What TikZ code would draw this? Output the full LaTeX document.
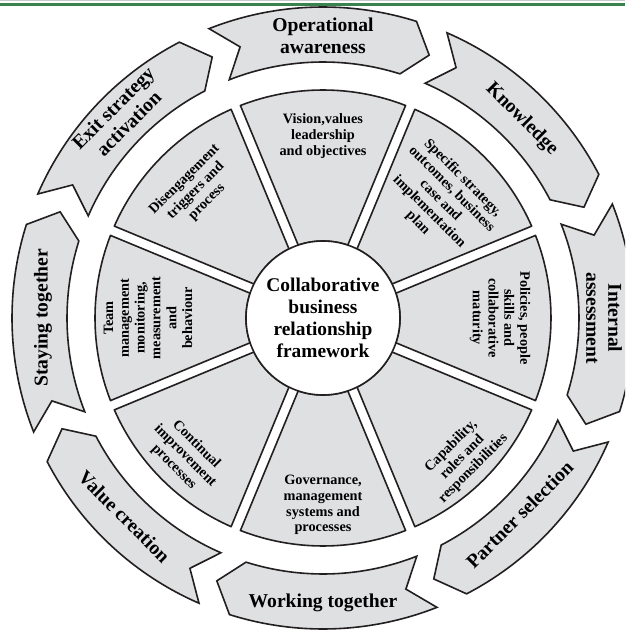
\documentclass[tikz,border=0pt]{standalone}
\usepackage{fontspec}
\setmainfont{Liberation Serif}
\usepackage{tikz}
\usepackage{xcolor}
\tikzset{every picture/.style={line width=1.6pt}}

\definecolor{cbgray}{RGB}{223,224,226}
\definecolor{cbline}{RGB}{35,31,32}
\definecolor{cbgreen}{RGB}{58,130,78}
\definecolor{cbrule}{RGB}{200,202,204}

\tikzset{
  sector/.style={draw=cbline, fill=cbgray, line join=round},
  ringarrow/.style={draw=cbline, fill=cbgray},
  sectortext/.style={align=center, inner sep=0pt, font=\bfseries\fontsize{14.3}{15.8}\selectfont},
  ringtext/.style={align=center, inner sep=0pt, font=\bfseries\fontsize{19.6}{22}\selectfont},
  corecircle/.style={circle, draw=cbline, fill=white, minimum size=154pt, inner sep=0pt, align=center, font=\bfseries\fontsize{19.4}{22}\selectfont}
}

% inner sector, #1 = middle angle
\newcommand{\cbsector}[1]{%
  \pgfmathsetmacro\cbA{#1-22.5+1.26}%
  \pgfmathsetmacro\cbB{#1+22.5-1.26}%
  \pgfmathsetmacro\cbC{#1+22.5-3.72}%
  \pgfmathsetmacro\cbD{#1-22.5+3.72}%
  \draw [sector] (\cbA:228) arc [start angle=\cbA, end angle=\cbB, radius=228] -- (\cbC:77) arc [start angle=\cbC, end angle=\cbD, radius=77] -- cycle;}

% outer ring arrow, #1 = middle angle, runs clockwise
\newcommand{\cbarrow}[1]{%
  \pgfmathsetmacro\cbT{#1+21.5}%
  \pgfmathsetmacro\cbN{#1+17}%
  \pgfmathsetmacro\cbH{#1-17.5}%
  \pgfmathsetmacro\cbP{#1-22}%
  \draw [ringarrow] (\cbT:311) arc [start angle=\cbT, end angle=\cbH, radius=311] -- (\cbP:283.5) -- (\cbH:256) arc [start angle=\cbH, end angle=\cbT, radius=256] -- (\cbN:283.5) -- cycle;}

\begin{document}
\begin{tikzpicture}[x=1pt,y=1pt]
\useasboundingbox (-323,-314) rectangle (302,318);
\clip (-323,-314) rectangle (302,318);

%Straight Lines: top rule
\draw [cbrule, line width=0.8pt] (-323,317.2) -- (302,317.2);
\draw [cbgreen, line width=2.6pt] (-323,313.6) -- (302,313.6);

%Shapes: inner sectors
\cbsector{90}
\cbsector{45}
\cbsector{0}
\cbsector{-45}
\cbsector{-90}
\cbsector{-135}
\cbsector{180}
\cbsector{135}

%Shapes: ring arrows
\cbarrow{90}
\cbarrow{45}
\cbarrow{0}
\cbarrow{-45}
\cbarrow{-90}
\cbarrow{-135}
\cbarrow{180}
\cbarrow{135}

% Centre Node
\node (core) [corecircle] at (0,0) {Collaborative\\business\\relationship\\framework};

% Text Node
\node (vision) [sectortext] at (90:182) {Vision,values\\leadership\\and objectives};
% Text Node
\node (strategy) [sectortext, rotate=-45] at (45:166) {Specific strategy,\\outcomes, business\\case and\\implementation\\plan};
% Text Node
\node (policies) [sectortext, rotate=-90] at (0:177) {Policies, people\\skills and\\collaborative\\maturity};
% Text Node
\node (capability) [sectortext, rotate=45] at (-45:197) {Capability,\\roles and\\responsibilities};
% Text Node
\node (governance) [sectortext] at (-90:187) {Governance,\\management\\systems and\\processes};
% Text Node
\node (continual) [sectortext, rotate=-45] at (-135:195) {Continual\\improvement\\processes};
% Text Node
\node (team) [sectortext, rotate=90] at (180:175) {Team\\management\\monitoring,\\measurement\\and\\behaviour};
% Text Node
\node (disengage) [sectortext, rotate=45] at (135:180) {Disengagement\\triggers and\\process};

% Text Node
\node (awareness) [ringtext] at (90:282) {Operational\\awareness};
% Text Node
\node (knowledge) [ringtext, rotate=-45] at (45:281) {Knowledge};
% Text Node
\node (internal) [ringtext, rotate=-90] at (0:281) {Internal\\assessment};
% Text Node
\node (partner) [ringtext, rotate=45] at (-45:278) {Partner selection};
% Text Node
\node (working) [ringtext] at (-90:285) {Working together};
% Text Node
\node (value) [ringtext, rotate=-45] at (-135:281) {Value creation};
% Text Node
\node (staying) [ringtext, rotate=90] at (180:280) {Staying together};
% Text Node
\node (exit) [ringtext, rotate=45] at (135:286) {Exit strategy\\activation};
\end{tikzpicture}
\end{document}
